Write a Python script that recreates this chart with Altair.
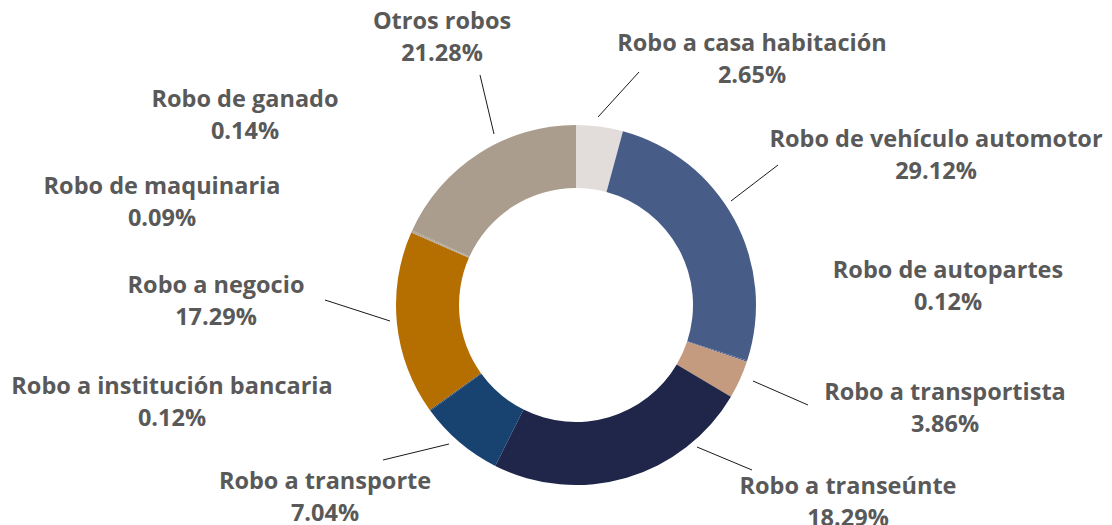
import altair as alt
import pandas as pd

# ---- data ----
categories = [
    "Robo a casa habitación",
    "Robo de vehículo automotor",
    "Robo de autopartes",
    "Robo a transportista",
    "Robo a transeúnte",
    "Robo a transporte",
    "Robo a institución bancaria",
    "Robo a negocio",
    "Robo de maquinaria",
    "Robo de ganado",
    "Otros robos",
]
# slice sizes as drawn in the picture (share of the ring, %)
slice_sizes = [4.2, 25.8, 0.1, 3.4, 23.9, 7.6, 0.1, 16.5, 0.1, 0.1, 18.2]
# percentages as printed in the labels
pct_labels = ["2.65%", "29.12%", "0.12%", "3.86%", "18.29%", "7.04%",
              "0.12%", "17.29%", "0.09%", "0.14%", "21.28%"]

# ---- styles / layout ----
colors = ["#E2DDDA", "#485C88", "#4E5F86", "#C49B7E", "#1F264A", "#18426F",
          "#1B416B", "#B56E00", "#ADA090", "#A99C8C", "#AA9D8D"]
label_x = [744, 928, 940, 937, 840, 317, 164, 208, 154, 237, 434]
label_y = [36, 132, 263, 385, 479, 474, 379, 278, 179, 92, 14]
leader_x1 = [590, 723, 745, 689, 441, 382, 486]
leader_y1 = [109, 193, 373, 439, 436, 313, 126]
leader_x2 = [631, 770, 800, 744, 375, 317, 472]
leader_y2 = [64, 157, 397, 462, 452, 292, 67]

CX, CY = 568, 297

df = pd.DataFrame({
    "order": list(range(len(categories))),
    "categoria": categories,
    "porcentaje": slice_sizes,
})

labels = pd.DataFrame({
    "texto": [c + "\n" + p for c, p in zip(categories, pct_labels)],
    "lx": label_x,
    "ly": label_y,
})

leaders = pd.DataFrame({"x1": leader_x1, "y1": leader_y1,
                        "x2": leader_x2, "y2": leader_y2})

donut = alt.Chart(df).mark_arc(outerRadius=180, innerRadius=117).encode(
    theta=alt.Theta("porcentaje:Q", stack=True),
    order=alt.Order("order:Q"),
    color=alt.Color("categoria:N", scale=alt.Scale(domain=categories, range=colors),
                    legend=None),
    x=alt.value(CX),
    y=alt.value(CY),
)

lines = alt.Chart(leaders).mark_rule(color="#1a1a1a", strokeWidth=1).encode(
    x=alt.X("x1:Q", scale=None),
    y=alt.Y("y1:Q", scale=None),
    x2="x2:Q",
    y2="y2:Q",
)

text = alt.Chart(labels).mark_text(
    font="Open Sans", fontWeight="bold", fontSize=23.5, color="#595959",
    align="center", baseline="middle", lineBreak="\n", lineHeight=32,
).encode(
    x=alt.X("lx:Q", scale=None),
    y=alt.Y("ly:Q", scale=None),
    text="texto:N",
)

chart = alt.layer(donut, lines, text).properties(
    width=1096, height=517,
    autosize=alt.AutoSizeParams(type="none"),
    padding=0,
).configure_view(stroke=None)

chart.save("out.html", embed_options={"renderer": "svg", "actions": False})
